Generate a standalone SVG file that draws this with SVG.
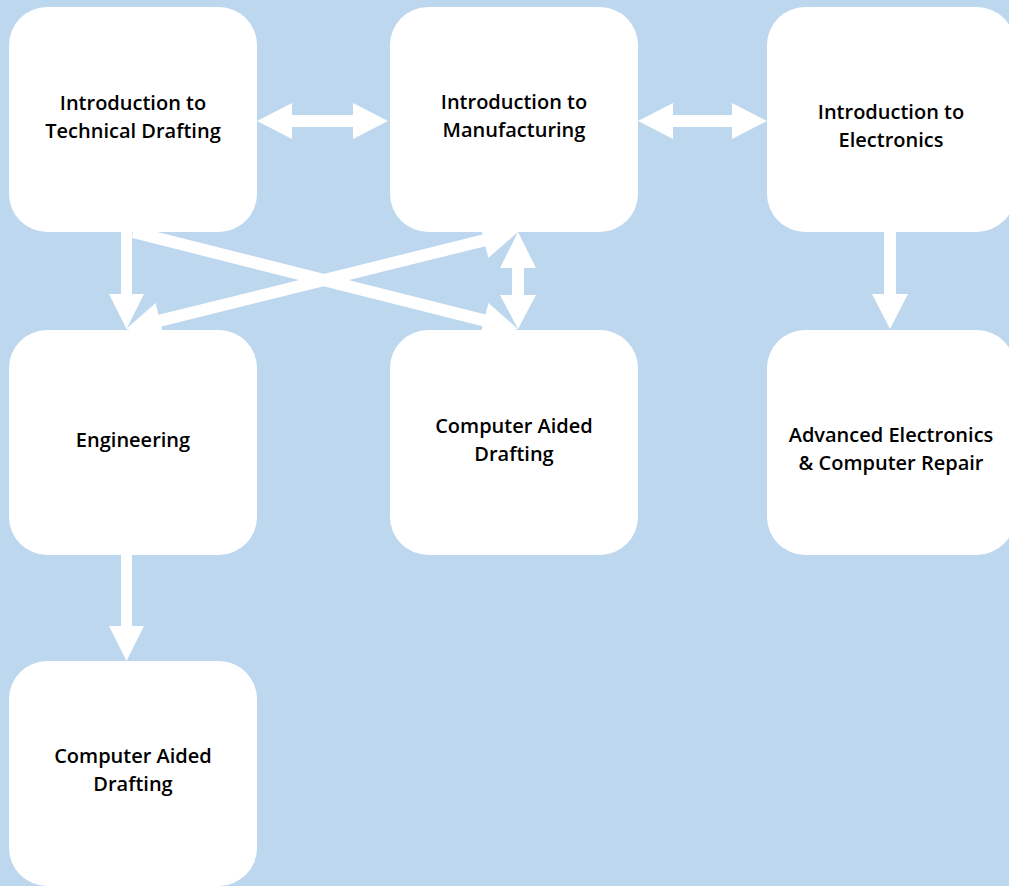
<svg xmlns="http://www.w3.org/2000/svg" width="1009" height="886" viewBox="0 0 1009 886">
<style>
.node{fill:#ffffff}
.lbl{font-family:"Open Sans","Liberation Sans",sans-serif;font-weight:600;font-size:20px;fill:#000000;text-anchor:middle}
.arr{fill:#ffffff}
</style>
<rect width="1009" height="886" fill="#BDD7EE"/>
<g id="n-techdraft"><rect class="node" x="9" y="7" width="248" height="225" rx="38"/><text class="lbl" x="133" y="110">Introduction to</text><text class="lbl" x="133" y="138">Technical Drafting</text></g>
<g id="n-manufacturing"><rect class="node" x="390" y="7" width="248" height="225" rx="38"/><text class="lbl" x="514" y="109">Introduction to</text><text class="lbl" x="514" y="137">Manufacturing</text></g>
<g id="n-electronics"><rect class="node" x="767" y="7" width="248" height="225" rx="38"/><text class="lbl" x="891" y="119">Introduction to</text><text class="lbl" x="891" y="147">Electronics</text></g>
<g id="n-engineering"><rect class="node" x="9" y="330" width="248" height="225" rx="38"/><text class="lbl" x="133" y="447">Engineering</text></g>
<g id="n-cad1"><rect class="node" x="390" y="330" width="248" height="225" rx="38"/><text class="lbl" x="514" y="433">Computer Aided</text><text class="lbl" x="514" y="461">Drafting</text></g>
<g id="n-advelec"><rect class="node" x="767" y="330" width="248" height="225" rx="38"/><text class="lbl" x="891" y="442">Advanced Electronics</text><text class="lbl" x="891" y="470">&amp; Computer Repair</text></g>
<g id="n-cad2"><rect class="node" x="9" y="661" width="248" height="225" rx="38"/><text class="lbl" x="133" y="763">Computer Aided</text><text class="lbl" x="133" y="791">Drafting</text></g>
<g id="connectors">
<polygon class="arr" points="257,121 292,103 292,115 353,115 353,103 388,121 353,139 353,127 292,127 292,139"/>
<polygon class="arr" points="638,121 673,103 673,115 732,115 732,103 767,121 732,139 732,127 673,127 673,139"/>
<polygon class="arr" points="121,232 132,232 132,294 144,294 126.5,329 109,294 121,294"/>
<polygon class="arr" points="884,232 896,232 896,294 908,294 890,329 872,294 884,294"/>
<polygon class="arr" points="121,555 132,555 132,626 144,626 126.5,661 109,626 121,626"/>
<polygon class="arr" points="518,232 536,268 524,268 524,295 536,295 518,329 500,295 512,295 512,268 500,268"/>
<g transform="translate(133,232) rotate(14.14)"><polygon class="arr" points="0,-6 362,-6 362,-18 397,0 362,18 362,6 0,6"/></g>
<g transform="translate(126,329) rotate(-13.9)"><polygon class="arr" points="0,0 35,-18 35,-6 368.8,-6 368.8,-18 403.8,0 368.8,18 368.8,6 35,6 35,18"/></g>
</g>
</svg>
